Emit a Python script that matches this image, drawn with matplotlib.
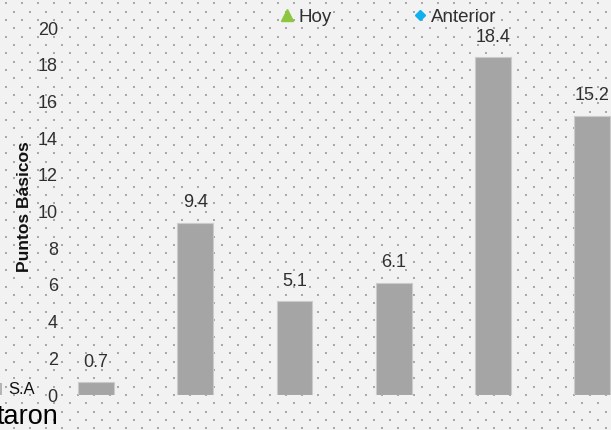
import matplotlib.pyplot as plt
import numpy as np
from matplotlib.lines import Line2D
from matplotlib.patches import Rectangle

plt.rcParams["font.family"] = ["Liberation Sans", "DejaVu Sans"]

# values in basis points
categories = ["A", "B", "C", "D", "E", "F"]
hoy = [0.7, 9.4, 5.1, 6.1, 18.4, 15.2]
y_ticks = [0, 2, 4, 6, 8, 10, 12, 14, 16, 18, 20]

BG = "#f2f2f2"
BAR = "#a5a5a5"
TEXT = "#303030"
W, H = 611, 430


def draw_dot_background(fig):
    bg = fig.add_axes([0, 0, 1, 1], zorder=0)
    bg.set_xlim(0, W)
    bg.set_ylim(H, 0)
    bg.axis("off")
    xs, ys = [], []
    for k, y in enumerate(np.arange(3.4, H, 8.333)):
        start = 6 if k % 2 == 0 else 14
        row = np.arange(start, W, 16)
        xs.extend(row)
        ys.extend([y] * len(row))
    bg.scatter(xs, ys, s=1.6, marker="s", color="#a8a8a8", linewidths=0)


fig = plt.figure(figsize=(6.11, 4.30), dpi=100, facecolor=BG)
draw_dot_background(fig)

# plot area: y=0 at 395 px, 18.35 px per unit
ax = fig.add_axes([62 / W, 35 / H, 549 / W, 394.5 / H], zorder=1)
ax.set_facecolor("none")

x = np.arange(len(categories))
bars = ax.bar(x, hoy, width=0.36, color=BAR, edgecolor="#cbcbcb", linewidth=0.8)

for xi, val in zip(x, hoy):
    ax.annotate(f"{val}", (xi, val), xytext=(0, 14.5), textcoords="offset points",
                ha="center", va="center", fontsize=13, color=TEXT)

ax.set_xlim(-0.343, 5.19)
ax.set_ylim(0, 21.5)
ax.set_yticks(y_ticks)
ax.tick_params(axis="y", length=0, pad=3, labelsize=13, labelcolor=TEXT)
ax.set_xticks([])
for side in ax.spines.values():
    side.set_visible(False)

ax.set_ylabel("Puntos Básicos", fontsize=12.5, fontweight="bold", color="#111111")
ax.yaxis.set_label_coords(-0.055, 0.4766)

handles = [
    Line2D([], [], marker="^", linestyle="none", color="#8dc63f", markersize=9),
    Line2D([], [], marker="D", linestyle="none", color="#0fb0f0", markersize=5.5),
]
fig.legend(handles, ["Hoy", "Anterior"], loc="center", bbox_to_anchor=(389 / W, 1 - 17 / H),
           ncol=2, frameon=False, fontsize=13.5, handlelength=0.6, handletextpad=0.3,
           columnspacing=4.4, labelcolor=TEXT)

# neighbouring panel fragments on the left edge
fig.add_artist(Rectangle((0, 1 - 395 / H), 2 / W, 12 / H, transform=fig.transFigure,
                         color="#b5b5b5", lw=0))
fig.text(8 / W, 1 - 389 / H, "S.A", fontsize=12, va="center", ha="left", color="#111111")
fig.text(-3 / W, 1 - 417 / H, "taron", fontsize=19.5, va="center", ha="left", color="#000000")

fig.savefig("out.png", dpi=100, facecolor=BG)
